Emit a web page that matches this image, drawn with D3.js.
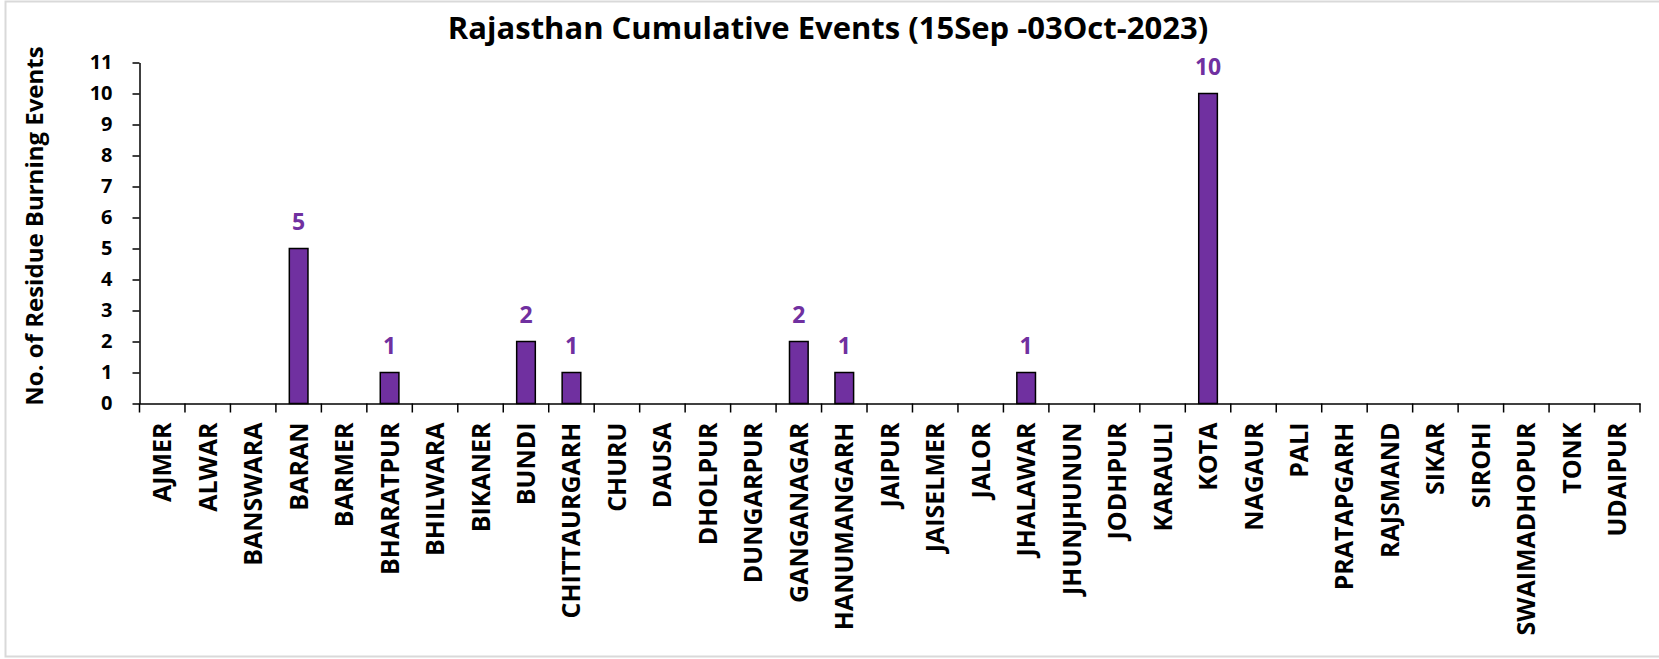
<!DOCTYPE html>
<html>
<head>
<meta charset="utf-8">
<script src="https://cdn.jsdelivr.net/npm/d3@7"></script>
<style>
  body { margin: 0; background: #fff; }
  text { font-family: 'Open Sans', sans-serif; font-weight: bold; }
</style>
</head>
<body>
<div id="chart"></div>
<script>
const districts = ['AJMER', 'ALWAR', 'BANSWARA', 'BARAN', 'BARMER', 'BHARATPUR', 'BHILWARA', 'BIKANER',
  'BUNDI', 'CHITTAURGARH', 'CHURU', 'DAUSA', 'DHOLPUR', 'DUNGARPUR', 'GANGANAGAR', 'HANUMANGARH',
  'JAIPUR', 'JAISELMER', 'JALOR', 'JHALAWAR', 'JHUNJHUNUN', 'JODHPUR', 'KARAULI', 'KOTA', 'NAGAUR',
  'PALI', 'PRATAPGARH', 'RAJSMAND', 'SIKAR', 'SIROHI', 'SWAIMADHOPUR', 'TONK', 'UDAIPUR'];
const events = [0, 0, 0, 5, 0, 1, 0, 0, 2, 1, 0, 0, 0, 0, 2, 1, 0, 0, 0, 1, 0, 0, 0, 10, 0, 0, 0, 0, 0, 0, 0, 0, 0];
const yTicks = [0, 1, 2, 3, 4, 5, 6, 7, 8, 9, 10, 11];
const title = 'Rajasthan Cumulative Events (15Sep -03Oct-2023)';
const yTitle = 'No. of Residue Burning Events';

const W = 1659;
const H = 659;
const barColor = '#7030a0';

const svg = d3.select('#chart').append('svg')
  .attr('width', W)
  .attr('height', H);

svg.append('rect')
  .attr('x', 5.5).attr('y', 1.5)
  .attr('width', 1680).attr('height', 655)
  .attr('fill', '#fff')
  .attr('stroke', '#d9d9d9')
  .attr('stroke-width', 2);

const x = d3.scaleBand()
  .domain(districts)
  .range([139.5, 1640])
  .padding(0);

const y = d3.scaleLinear()
  .domain([0, 11])
  .range([403.5, 62.5]);

const barW = x.bandwidth() * 0.41;

// y axis
const yAxis = d3.axisLeft(y)
  .tickValues(yTicks)
  .tickSize(7)
  .tickSizeOuter(0)
  .tickPadding(20);

const gy = svg.append('g')
  .attr('transform', `translate(${x.range()[0]},0)`)
  .call(yAxis);
gy.select('.domain').attr('stroke', '#000').attr('stroke-width', 1.5);
gy.selectAll('.tick line').attr('stroke', '#000').attr('stroke-width', 1.5);
gy.selectAll('.tick text')
  .attr('fill', '#000')
  .style('font-size', '20px');

// x axis: labels centred in bands, tick marks on band edges
const xAxis = d3.axisBottom(x).tickSize(0).tickSizeOuter(0).tickPadding(0);
const gx = svg.append('g')
  .attr('transform', `translate(0,${y(0)})`)
  .call(xAxis);
gx.select('.domain').attr('stroke', '#000').attr('stroke-width', 1.5);
gx.selectAll('.tick text')
  .attr('fill', '#000')
  .style('font-size', '25px')
  .attr('text-anchor', 'end')
  .attr('transform', 'translate(0,19) rotate(-90)')
  .attr('y', 0)
  .attr('x', 0)
  .attr('dy', '0.36em');

const edges = districts.map(d => x(d)).concat([x.range()[1]]);
gx.selectAll('.edge')
  .data(edges)
  .enter()
  .append('line')
  .attr('class', 'edge')
  .attr('x1', d => d).attr('x2', d => d)
  .attr('y1', 0).attr('y2', 9)
  .attr('stroke', '#000')
  .attr('stroke-width', 1.5);

// bars
const data = districts.map((d, i) => ({ name: d, value: events[i] }));

svg.append('g')
  .selectAll('rect')
  .data(data.filter(d => d.value > 0))
  .enter()
  .append('rect')
  .attr('x', d => x(d.name) + (x.bandwidth() - barW) / 2)
  .attr('y', d => y(d.value))
  .attr('width', barW)
  .attr('height', d => y(0) - y(d.value))
  .attr('fill', barColor)
  .attr('stroke', '#000')
  .attr('stroke-width', 1.5);

svg.append('g')
  .selectAll('text')
  .data(data.filter(d => d.value > 0))
  .enter()
  .append('text')
  .attr('x', d => x(d.name) + x.bandwidth() / 2)
  .attr('y', d => y(d.value) - 18.5)
  .attr('text-anchor', 'middle')
  .attr('fill', barColor)
  .style('font-size', '23px')
  .text(d => d.value);

// titles
svg.append('text')
  .attr('x', 828)
  .attr('y', 39)
  .attr('text-anchor', 'middle')
  .attr('fill', '#000')
  .style('font-size', '31px')
  .text(title);

svg.append('text')
  .attr('transform', 'translate(43,226) rotate(-90)')
  .attr('text-anchor', 'middle')
  .attr('fill', '#000')
  .style('font-size', '24px')
  .text(yTitle);
</script>
</body>
</html>
